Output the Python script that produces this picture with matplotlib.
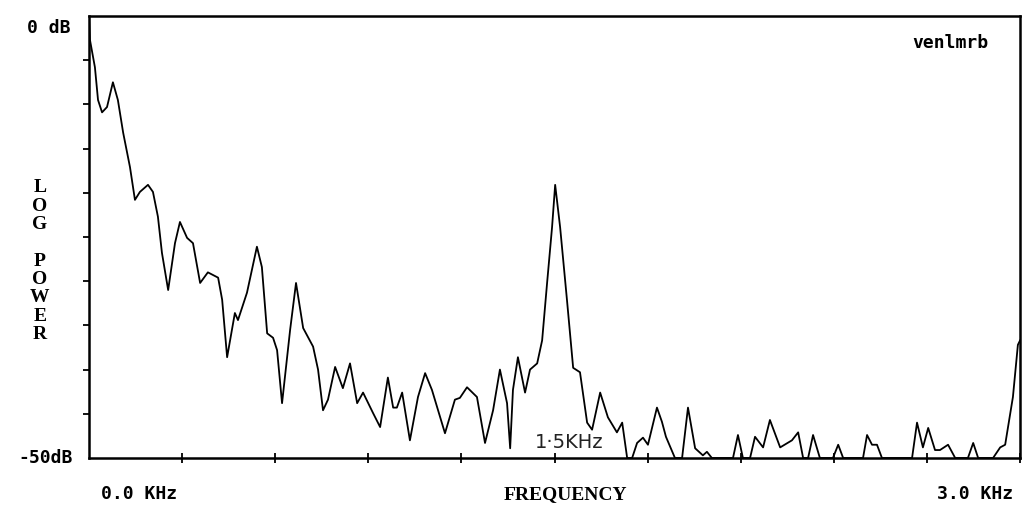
import numpy as np
import matplotlib.pyplot as plt

# spectrum trace: frequency (kHz) vs log power (dB)
freq_khz = [
    0.000, 0.003, 0.019, 0.029, 0.042, 0.058, 0.077, 0.093, 0.110, 0.132,
    0.148, 0.164, 0.190, 0.206, 0.222, 0.235, 0.255, 0.277, 0.293, 0.316,
    0.335, 0.358, 0.383, 0.416, 0.429, 0.445, 0.470, 0.480, 0.509, 0.541,
    0.557, 0.574, 0.593, 0.606, 0.622, 0.648, 0.667, 0.690, 0.722, 0.738,
    0.754, 0.770, 0.793, 0.818, 0.841, 0.864, 0.883, 0.915, 0.938, 0.963,
    0.980, 0.992, 1.009, 1.034, 1.060, 1.083, 1.105, 1.147, 1.179, 1.195,
    1.218, 1.250, 1.276, 1.302, 1.324, 1.347, 1.357, 1.366, 1.382, 1.405,
    1.421, 1.444, 1.460, 1.476, 1.492, 1.502, 1.518, 1.540, 1.560, 1.582,
    1.605, 1.621, 1.647, 1.672, 1.701, 1.718, 1.734, 1.750, 1.766, 1.785,
    1.801, 1.830, 1.846, 1.859, 1.888, 1.911, 1.930, 1.953, 1.978, 1.991,
    2.007, 2.075, 2.091, 2.107, 2.130, 2.146, 2.172, 2.194, 2.227, 2.265,
    2.285, 2.301, 2.317, 2.333, 2.355, 2.397, 2.414, 2.430, 2.494, 2.507,
    2.523, 2.539, 2.555, 2.652, 2.668, 2.687, 2.704, 2.726, 2.742, 2.768,
    2.791, 2.832, 2.849, 2.865, 2.913, 2.936, 2.952, 2.977, 2.993, 3.000,
]
power_db = [
    0.0, -2.7, -5.8, -9.5, -10.9, -10.3, -7.5, -9.5, -13.2, -17.1,
    -20.8, -19.9, -19.1, -19.9, -22.7, -26.8, -31.0, -25.7, -23.3, -25.1,
    -25.7, -30.2, -29.0, -29.6, -32.1, -38.6, -33.6, -34.4, -31.3, -26.1,
    -28.4, -35.9, -36.4, -37.8, -43.8, -35.5, -30.2, -35.3, -37.4, -40.0,
    -44.6, -43.4, -39.7, -42.1, -39.3, -43.8, -42.6, -44.9, -46.5, -40.9,
    -44.3, -44.3, -42.6, -48.0, -43.1, -40.4, -42.3, -47.2, -43.4, -43.2,
    -42.0, -43.1, -48.3, -44.6, -40.0, -43.8, -48.9, -42.3, -38.6, -42.6,
    -40.0, -39.3, -36.7, -30.2, -23.9, -19.1, -23.9, -32.1, -39.8, -40.3,
    -46.0, -46.8, -42.6, -45.4, -47.1, -46.0, -50.0, -50.0, -48.3, -47.7,
    -48.5, -44.3, -45.9, -47.6, -50.0, -50.0, -44.3, -48.9, -49.7, -49.3,
    -50.0, -50.0, -47.4, -50.0, -50.0, -47.6, -48.8, -45.7, -48.8, -48.0,
    -47.1, -50.0, -50.0, -47.4, -50.0, -50.0, -48.5, -50.0, -50.0, -47.4,
    -48.5, -48.5, -50.0, -50.0, -46.0, -48.8, -46.6, -49.1, -49.1, -48.5,
    -50.0, -50.0, -48.3, -50.0, -50.0, -48.8, -48.5, -43.1, -37.2, -36.7,
]

x_ticks = np.arange(0.3, 3.0, 0.3)
y_ticks = np.arange(-45, 0, 5)

mono = 'DejaVu Sans Mono'
serif = 'Liberation Serif'

fig = plt.figure(figsize=(10.22, 5.09), dpi=100)
ax = fig.add_axes([0.0871, 0.1002, 0.9110, 0.8684])

ax.plot(freq_khz, power_db, color='black', linewidth=1.3)

ax.set_xlim(0, 3.0)
ax.set_ylim(-50, 0)
ax.set_xticks(x_ticks)
ax.set_yticks(y_ticks)
ax.set_xticklabels([])
ax.set_yticklabels([])
ax.tick_params(axis='x', direction='inout', length=7, width=1.3, color='black')
ax.tick_params(axis='y', direction='out', length=4, width=1.3, color='black')
ax.tick_params(top=False, right=False)
for side in ax.spines.values():
    side.set_linewidth(1.8)

# axis annotations in the plotter style
fig.text(0.069, 0.945, '0 dB', ha='right', va='center', fontsize=13,
         family=mono, fontweight='bold')
fig.text(0.071, 0.100, '-50dB', ha='right', va='center', fontsize=13,
         family=mono, fontweight='bold')
fig.text(0.136, 0.029, '0.0 KHz', ha='center', va='center', fontsize=13,
         family=mono, fontweight='bold')
fig.text(0.553, 0.029, 'FREQUENCY', ha='center', va='center', fontsize=14,
         family=serif, fontweight='bold')
fig.text(0.954, 0.029, '3.0 KHz', ha='center', va='center', fontsize=13,
         family=mono, fontweight='bold')
fig.text(0.930, 0.916, 'venlmrb', ha='center', va='center', fontsize=13,
         family=mono, fontweight='bold')
fig.text(0.039, 0.487, '\n'.join('LOG POWER'), ha='center', va='center',
         fontsize=14, family=serif, fontweight='bold', linespacing=1.1)

# hand-written marker at the peak
ax.text(1.547, -48.2, '1·5KHz', ha='center', va='center', fontsize=14,
        family='DejaVu Sans', color='#222222')

fig.savefig('out.png', dpi=100, facecolor='white')
